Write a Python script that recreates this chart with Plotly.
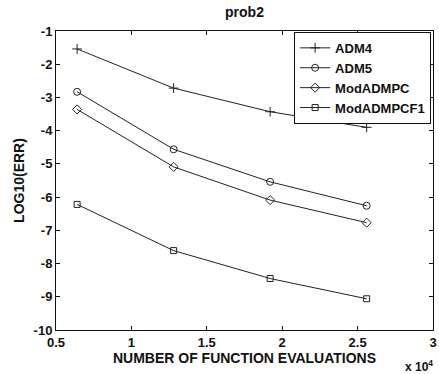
import plotly.graph_objects as go

x_vals = [0.64, 1.28, 1.92, 2.56]  # function evaluations, in units of 1e4
adm4 = [-1.54, -2.72, -3.43, -3.90]
adm5 = [-2.83, -4.56, -5.54, -6.26]
modadmpc = [-3.36, -5.09, -6.09, -6.77]
modadmpcf1 = [-6.22, -7.61, -8.45, -9.06]

series = [
    ("ADM4", adm4, "cross-thin-open"),
    ("ADM5", adm5, "circle-open"),
    ("ModADMPC", modadmpc, "diamond-open"),
    ("ModADMPCF1", modadmpcf1, "square-open"),
]

x_ticks = [0.5, 1, 1.5, 2, 2.5, 3]
x_ticklabels = ["0.5", "1", "1.5", "2", "2.5", "3"]
y_ticks = list(range(-10, 0))
y_ticklabels = [str(v) for v in y_ticks]

fig = go.Figure()
for name, ys, sym in series:
    fig.add_trace(go.Scatter(
        x=x_vals, y=ys, name="<b>%s</b>" % name, mode="lines+markers",
        line=dict(color="#222", width=1),
        marker=dict(symbol=sym, size=7 if sym != "square-open" else 6,
                    color="#222", line=dict(color="#222", width=1)),
    ))

FAM = "Liberation Sans, Arial, sans-serif"
font = dict(family=FAM, color="#111", size=13)
axis_common = dict(
    showgrid=False, zeroline=False, showline=True, linecolor="#111",
    linewidth=1, mirror="ticks", ticks="inside", ticklen=4, tickcolor="#111",
    tickfont=dict(family=FAM, size=13, color="#111"),
    automargin=False, ticklabeloverflow="allow",
)
fig.update_layout(
    width=439, height=374,
    margin=dict(l=56, r=6, t=31, b=44),
    paper_bgcolor="white", plot_bgcolor="white",
    font=font,
    title=dict(text="<b>prob2</b>", x=0.5, xanchor="center", xref="paper",
               y=1, yref="container", yanchor="top", pad=dict(t=7),
               font=dict(size=14)),
    xaxis=dict(range=[0.5, 3], tickvals=x_ticks,
               ticktext=["<b>%s</b>" % t for t in x_ticklabels],
               title=dict(text="<b>NUMBER OF FUNCTION EVALUATIONS</b>", standoff=3,
                          font=dict(size=14)),
               **axis_common),
    yaxis=dict(range=[-10, -1], tickvals=y_ticks,
               ticktext=["<b>%s</b>" % t for t in y_ticklabels],
               title=dict(text="<b>LOG10(ERR)</b>", standoff=5, font=dict(size=14)),
               **axis_common),
    legend=dict(x=0.995, y=0.997, xanchor="right", yanchor="top",
                bordercolor="#111", borderwidth=1, bgcolor="white",
                font=dict(size=13), tracegroupgap=0,
                itemwidth=30),
    showlegend=True,
)
fig.add_annotation(text="<b>x 10<sup>4</sup></b>", xref="paper", yref="paper",
                   x=0.92, y=0, xanchor="left", yanchor="top", yshift=-26,
                   showarrow=False, font=dict(size=12))

fig.write_html(
    "out.html",
    config={"displayModeBar": False},
    post_script="document.body.style.margin='0';document.body.style.overflow='hidden';",
)
